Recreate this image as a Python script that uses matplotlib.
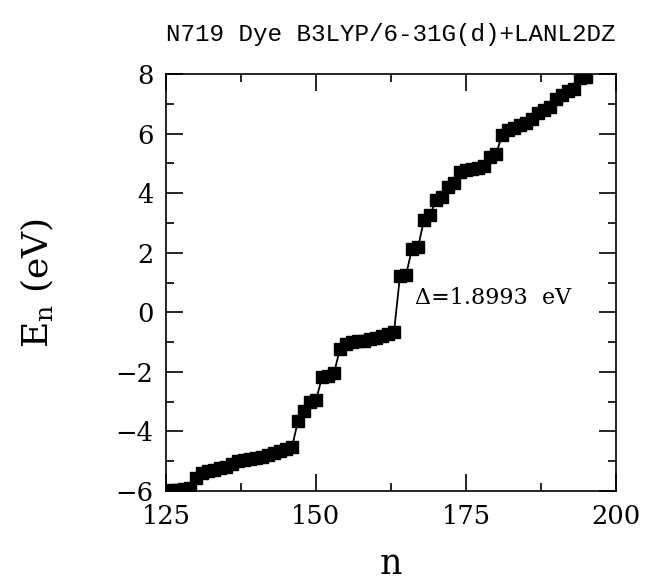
import matplotlib
matplotlib.use("Agg")
import matplotlib.pyplot as plt
from matplotlib.ticker import MultipleLocator

# Orbital index and Kohn-Sham eigenvalues (eV)
n_levels = list(range(125, 196))
energies = [
    -6.00, -5.98, -5.97, -5.93, -5.90, -5.55, -5.38, -5.33, -5.28, -5.24,
    -5.20, -5.10, -5.00, -4.96, -4.93, -4.90, -4.86, -4.80, -4.72, -4.66,
    -4.60, -4.52, -3.65, -3.30, -3.00, -2.96, -2.18, -2.14, -2.05, -1.22,
    -1.05, -1.00, -0.98, -0.95, -0.90, -0.86, -0.78, -0.72, -0.67,
    1.2293, 1.25, 2.13, 2.18, 3.10, 3.25, 3.78, 3.86, 4.22, 4.35, 4.72,
    4.78, 4.82, 4.85, 4.90, 5.20, 5.30, 5.95, 6.12, 6.20, 6.28, 6.35,
    6.50, 6.70, 6.80, 6.90, 7.15, 7.30, 7.42, 7.50, 7.85, 7.90,
]
gap_label = "\u0394=1.8993  eV"
title_text = "N719 Dye B3LYP/6-31G(d)+LANL2DZ"

plt.rcParams["font.family"] = ["DejaVu Serif"]
plt.rcParams["mathtext.fontset"] = "dejavuserif"

fig = plt.figure(figsize=(6.46, 5.81), dpi=100)
ax = fig.add_axes([166 / 646, 1 - 491 / 581, 450 / 646, 417 / 581])

ax.plot(n_levels, energies, color="black", lw=1.3, marker="s",
        markersize=8.5, markerfacecolor="black", markeredgecolor="black")

ax.set_xlim(125, 200)
ax.set_ylim(-6, 8)
ax.xaxis.set_major_locator(MultipleLocator(25))
ax.xaxis.set_minor_locator(MultipleLocator(12.5))
ax.yaxis.set_major_locator(MultipleLocator(2))
ax.yaxis.set_minor_locator(MultipleLocator(1))
ax.tick_params(which="both", direction="in", top=True, right=True,
               width=1.2, labelsize=18.5, pad=9)
ax.tick_params(which="major", length=12)
ax.tick_params(which="minor", length=6)
for s in ax.spines.values():
    s.set_linewidth(1.2)

ax.text(166.5, 0.48, gap_label, fontsize=16, va="center", ha="left")

ax.set_xlabel("n", fontsize=25, va="center")
ax.xaxis.set_label_coords(0.5, -0.175)
ax.set_ylabel(r"$\mathrm{E_n}$ (eV)", fontsize=26, va="center")
ax.yaxis.set_label_coords(-0.285, 0.5)
ax.set_title(title_text, fontsize=17.5, family="Liberation Mono", pad=24)

fig.savefig("out.png", dpi=100)
